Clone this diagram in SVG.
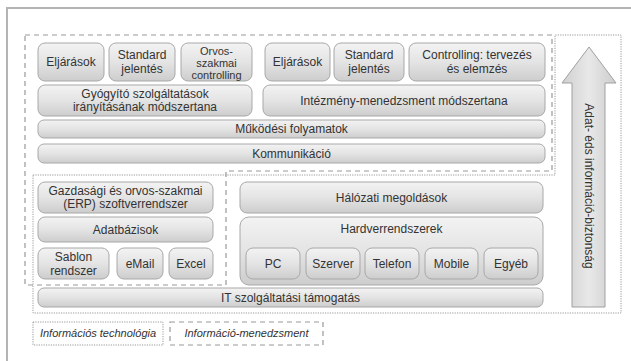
<svg xmlns="http://www.w3.org/2000/svg" width="631" height="361" viewBox="0 0 631 361">
<defs>
<linearGradient id="g" x1="0" y1="0" x2="0" y2="1">
<stop offset="0" stop-color="#f3f3f3"/>
<stop offset="0.5" stop-color="#e4e4e4"/>
<stop offset="1" stop-color="#cdcdcd"/>
</linearGradient>
<linearGradient id="ga" x1="0" y1="0" x2="1" y2="0">
<stop offset="0" stop-color="#d0d0d0"/>
<stop offset="0.5" stop-color="#e8e8e8"/>
<stop offset="1" stop-color="#cccccc"/>
</linearGradient>
<style>
.b{fill:url(#g);stroke:#a8a8a8;stroke-width:1}
.t{font-family:"Liberation Sans",Arial,sans-serif;font-size:12px;fill:#333;text-anchor:middle}
.s{font-size:11px}
.l{font-family:"Liberation Sans",Arial,sans-serif;font-size:11px;fill:#333;font-style:italic;text-anchor:middle}
.dash{fill:none;stroke:#999;stroke-width:1.2;stroke-dasharray:5 4}
.dot{fill:none;stroke:#999;stroke-width:1;stroke-dasharray:1.2 1.2}
</style>
</defs>
<rect width="631" height="361" fill="#fff"/>
<path d="M7,361 V8 H631" fill="none" stroke="#b4b4b4" stroke-width="2"/>

<g id="regions">
<path class="dash" d="M25,35 H552 V171 H226 V285 H25 Z"/>
<path class="dot" d="M33,175 H555 V35 H621 V313 H33 Z"/>
</g>

<g id="n-eljarasok1"><rect class="b" x="38" y="43" width="66" height="38" rx="7"/><text class="t" x="71" y="66">Eljárások</text></g>
<g id="n-standard1"><rect class="b" x="109" y="43" width="66" height="38" rx="7"/><text class="t" x="142" y="59">Standard</text><text class="t" x="142" y="73">jelentés</text></g>
<g id="n-orvos"><rect class="b" x="181" y="43" width="71" height="38" rx="7"/><text class="t s" x="216.5" y="55">Orvos-</text><text class="t s" x="216.5" y="67">szakmai</text><text class="t s" x="216.5" y="79">controlling</text></g>
<g id="n-eljarasok2"><rect class="b" x="265" y="43" width="65" height="38" rx="7"/><text class="t" x="297.5" y="66">Eljárások</text></g>
<g id="n-standard2"><rect class="b" x="334" y="43" width="70" height="38" rx="7"/><text class="t" x="369" y="59">Standard</text><text class="t" x="369" y="73">jelentés</text></g>
<g id="n-controlling"><rect class="b" x="409" y="43" width="136" height="38" rx="7"/><text class="t" x="477" y="59">Controlling: tervezés</text><text class="t" x="477" y="73">és elemzés</text></g>
<g id="n-gyogyito"><rect class="b" x="38" y="85" width="214" height="31" rx="7"/><text class="t" x="145" y="98">Gyógyító szolgáltatások</text><text class="t" x="145" y="111">irányításának módszertana</text></g>
<g id="n-intezmeny"><rect class="b" x="263" y="85" width="282" height="31" rx="7"/><text class="t" x="404" y="105">Intézmény-menedzsment módszertana</text></g>
<g id="n-mukodesi"><rect class="b" x="38" y="120" width="507" height="18" rx="6"/><text class="t" x="291.5" y="133">Működési folyamatok</text></g>
<g id="n-kommunikacio"><rect class="b" x="38" y="144" width="507" height="19" rx="6"/><text class="t" x="291.5" y="158">Kommunikáció</text></g>

<g id="n-gazdasagi"><rect class="b" x="38" y="182" width="175" height="31" rx="7"/><text class="t" x="125.5" y="195">Gazdasági és orvos-szakmai</text><text class="t" x="125.5" y="208">(ERP) szoftverrendszer</text></g>
<g id="n-adatbazisok"><rect class="b" x="38" y="217" width="175" height="25" rx="7"/><text class="t" x="125.5" y="234">Adatbázisok</text></g>
<g id="n-sablon"><rect class="b" x="38" y="248" width="71" height="31" rx="7"/><text class="t" x="73.5" y="261">Sablon</text><text class="t" x="73.5" y="275">rendszer</text></g>
<g id="n-email"><rect class="b" x="117" y="248" width="46" height="31" rx="7"/><text class="t" x="140" y="268">eMail</text></g>
<g id="n-excel"><rect class="b" x="169" y="248" width="44" height="31" rx="7"/><text class="t" x="191" y="268">Excel</text></g>
<g id="n-halozati"><rect class="b" x="240" y="182" width="303" height="31" rx="7"/><text class="t" x="391.5" y="202">Hálózati megoldások</text></g>
<g id="n-hardver"><rect class="b" x="240" y="217" width="303" height="68" rx="9"/><text class="t" x="391.5" y="233">Hardverrendszerek</text>
<g id="n-pc"><rect class="b" x="246" y="248" width="54" height="31" rx="7"/><text class="t" x="273" y="268">PC</text></g>
<g id="n-szerver"><rect class="b" x="306" y="248" width="54" height="31" rx="7"/><text class="t" x="333" y="268">Szerver</text></g>
<g id="n-telefon"><rect class="b" x="365" y="248" width="54" height="31" rx="7"/><text class="t" x="392" y="268">Telefon</text></g>
<g id="n-mobile"><rect class="b" x="425" y="248" width="53" height="31" rx="7"/><text class="t" x="451.5" y="268">Mobile</text></g>
<g id="n-egyeb"><rect class="b" x="484" y="248" width="54" height="31" rx="7"/><text class="t" x="511" y="268">Egyéb</text></g>
</g>
<g id="n-it"><rect class="b" x="38" y="288" width="505" height="19" rx="6"/><text class="t" x="290.5" y="302">IT szolgáltatási támogatás</text></g>

<g id="n-arrow">
<path d="M589,47 L616,83 H605 V307 H572 V83 H562 Z" fill="url(#ga)" stroke="#a0a0a0" stroke-width="1"/>
<text class="t" transform="translate(585,186) rotate(90)">Adat- éds információ-biztonság</text>
</g>

<g id="legend">
<g id="n-leg-it"><rect class="dot" x="33" y="322" width="130" height="23"/><text class="l" x="98" y="337">Információs technológia</text></g>
<g id="n-leg-im"><rect class="dash" x="170" y="322" width="153" height="23"/><text class="l" x="246.5" y="337">Információ-menedzsment</text></g>
</g>
</svg>
